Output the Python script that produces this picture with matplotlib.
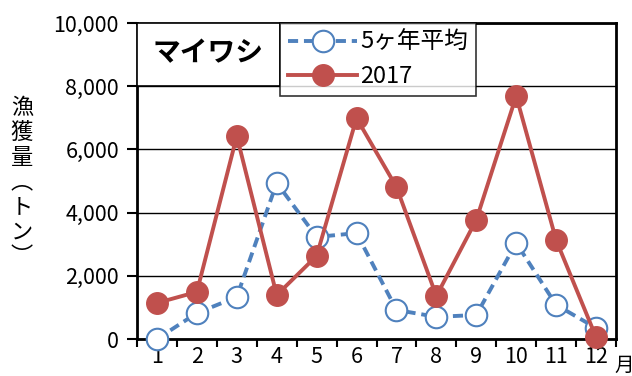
import matplotlib
matplotlib.use("Agg")
import matplotlib.pyplot as plt
import numpy as np
from matplotlib.ticker import FuncFormatter

plt.rcParams['font.family'] = ['Noto Sans CJK JP', 'DejaVu Sans']

months = [1, 2, 3, 4, 5, 6, 7, 8, 9, 10, 11, 12]
avg5 = [0, 820, 1330, 4940, 3230, 3350, 920, 700, 760, 3040, 1080, 350]
y2017 = [1140, 1490, 6420, 1390, 2630, 6990, 4810, 1360, 3770, 7690, 3130, 60]
yticks = [0, 2000, 4000, 6000, 8000, 10000]

fig = plt.figure(figsize=(6.32, 3.76), dpi=100)
ax = fig.add_axes([137/632, 1 - 339/376, 479/632, 316/376])

blue = '#4F81BD'
red = '#C0504D'

ax.plot(months, avg5, color=blue, lw=2.8, ls=(0, (2.6, 1.5)), marker='o', ms=15.5,
        mfc='white', mec=blue, mew=1.5, label='5ヶ年平均', zorder=3, clip_on=False)
ax.plot(months, y2017, color=red, lw=2.8, marker='o', ms=15.5,
        mfc=red, mec=red, label='2017', zorder=4, clip_on=False)

ax.set_xlim(0.5, 12.5)
ax.set_ylim(0, 10000)
ax.set_yticks(yticks)
ax.yaxis.set_major_formatter(FuncFormatter(lambda v, p: f"{int(v):,}"))
ax.grid(axis='y', color='black', lw=1.0)
ax.set_axisbelow(True)

ax.set_xticks(months)
ax.set_xticklabels([str(m) for m in months])
ax.set_xticks(np.arange(0.5, 13, 1), minor=True)
ax.tick_params(axis='x', which='major', length=0, labelsize=15.5, pad=5)
ax.tick_params(axis='x', which='minor', length=6, width=1.5, direction='out')
ax.tick_params(axis='y', length=7, width=1.5, labelsize=15.5, pad=6)

for s in ax.spines.values():
    s.set_linewidth(2)
    s.set_color('black')

# title box
ax.add_patch(plt.Rectangle((0.5, 8000), 143/40, 2000, facecolor='white',
                           edgecolor='black', lw=1.2, zorder=5))
ax.text(0.5 + 143/80, 9050, 'マイワシ', fontsize=20, fontweight='bold',
        va='center', ha='center', zorder=6)

leg = ax.legend(loc='upper left', bbox_to_anchor=((280 - 137) / 479, 1.0),
                frameon=True, fancybox=False, edgecolor='black', fontsize=17,
                borderpad=0.35, handlelength=2.9, handletextpad=0.15,
                labelspacing=0.45, borderaxespad=0)
leg.get_frame().set_linewidth(1.2)
leg.set_zorder(7)

fig.text(22/632, 1 - 182/376, '漁\n獲\n量\n︵\nト\nン\n︶', fontsize=16,
         ha='center', va='center', linespacing=1.1)
fig.text(614/632, 1 - 365/376, '月', fontsize=14, ha='left', va='center')

fig.savefig('out.png', dpi=100)
